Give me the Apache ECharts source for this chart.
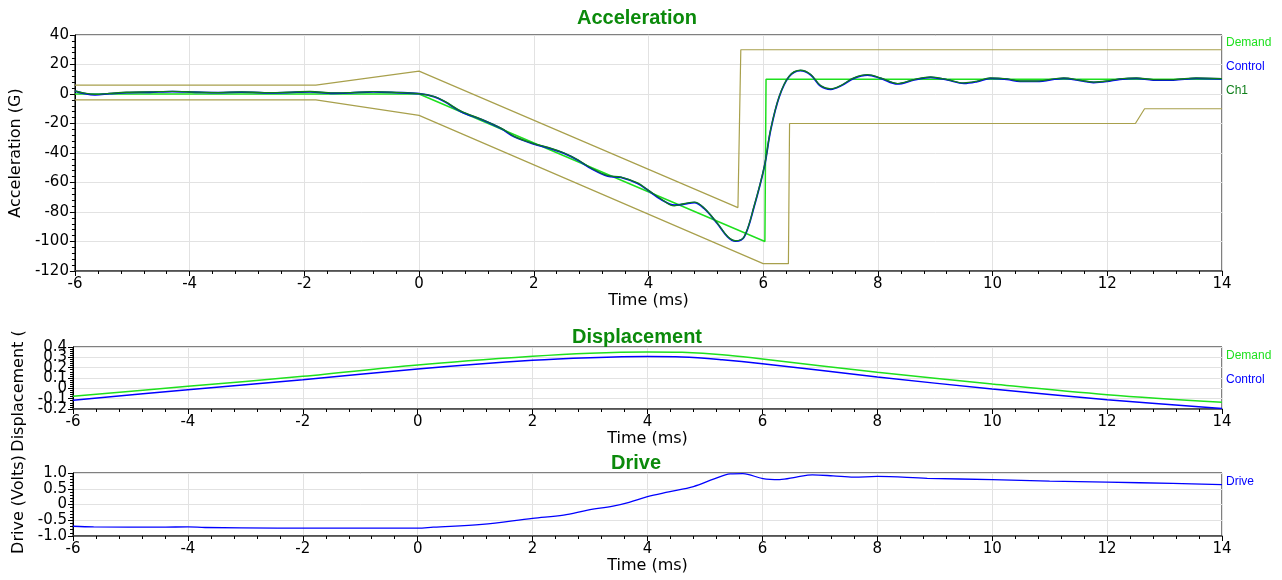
<!DOCTYPE html>
<html>
<head>
<meta charset="utf-8">
<script src="https://cdn.jsdelivr.net/npm/echarts@6/dist/echarts.min.js"></script>
<style>
html,body{margin:0;padding:0;background:#fff;}
#c{width:1282px;height:580px;}
</style>
</head>
<body>
<div id="c"></div>
<script>
// ---------- Acceleration ----------
const accDemandT = [-6, 0, 6.03, 6.05, 14];
const accDemandV = [0, 0, -100, 10, 10];
const accUpperT = [-6, -1.8, 0, 5.56, 5.61, 14];
const accUpperV = [6, 6, 15.5, -77, 30, 30];
const accLowerT = [-6, -1.8, 0, 6.0, 6.44, 6.46, 12.49, 12.65, 14];
const accLowerV = [-4, -4, -14.5, -115, -115, -20, -20, -10, -10];
const accControlT = [-6, -5.85, -5.65, -5.4, -5.1, -4.7, -4.3, -3.9, -3.5, -3.1, -2.7, -2.3, -1.9, -1.5, -1.2, -0.8, -0.4, 0,
  0.27, 0.45, 0.74, 1.08, 1.43, 1.66, 2.01, 2.25, 2.53, 2.77, 3.0, 3.29, 3.52, 3.81, 3.99, 4.22, 4.45, 4.62, 4.8, 4.97,
  5.2, 5.38, 5.52, 5.67, 5.84, 6.02, 6.13, 6.28, 6.45, 6.65, 6.83, 7.0, 7.18, 7.35, 7.58, 7.82, 8.05, 8.34, 8.63, 8.92,
  9.21, 9.5, 9.73, 9.96, 10.25, 10.48, 10.77, 11.24, 11.53, 11.76, 11.99, 12.22, 12.51, 12.8, 13.15, 13.55, 14];
const accControlV = [2, 0.5, -0.5, 0.2, 1.0, 1.2, 1.6, 1.2, 0.9, 1.3, 0.8, 1.0, 1.5, 0.5, 0.8, 1.5, 1.0, 0.2,
  -1.9, -5.3, -12.1, -17.2, -23.4, -29.0, -34, -36.5, -40.3, -44.9, -50.5, -55.7, -56.6, -60.7, -65.2, -71.5, -75.4, -74.7, -73.6, -77.6,
  -87.8, -96.9, -99.8, -96.9, -76.6, -49.4, -24.5, -1.9, 11.7, 15.8, 12.9, 5.4, 3.2, 5.4, 10.6, 12.8, 10.6, 6.8, 9.5, 11.3,
  9.5, 7.2, 8.4, 10.6, 10.0, 8.5, 8.5, 10.6, 9.0, 7.8, 8.5, 10.0, 10.6, 9.5, 9.5, 10.6, 10.2];
const accCh1V = [2.2, 0.7, -0.3, 0.4, 1.2, 1.4, 1.8, 1.3, 1.0, 1.5, 0.9, 1.2, 1.7, 0.7, 0.9, 1.6, 1.1, 0.3,
  -1.7, -5.0, -11.8, -17.0, -23.1, -28.7, -33.8, -36.2, -40.0, -44.6, -50.2, -55.4, -56.3, -60.3, -65.0, -71.2, -75.8, -74.4, -73.3, -77.3,
  -87.5, -96.6, -99.5, -96.6, -76.3, -49.1, -24.2, -1.6, 12.0, 16.1, 13.2, 5.7, 3.5, 5.7, 10.9, 13.1, 10.9, 7.1, 9.8, 11.6,
  9.8, 7.5, 8.7, 10.9, 10.3, 8.8, 8.8, 10.9, 9.3, 8.1, 8.8, 10.3, 10.9, 9.8, 9.8, 10.9, 10.4];

// ---------- Displacement ----------
const dispT = [-6, -4, -2, 0, 2, 3, 4, 4.6, 5.3, 6, 8, 10, 12, 14];
const dispDemandV = [-0.077, 0.019, 0.116, 0.226, 0.31, 0.34, 0.352, 0.348, 0.326, 0.284, 0.155, 0.042, -0.061, -0.135];
const dispControlV = [-0.116, -0.013, 0.084, 0.187, 0.271, 0.296, 0.307, 0.303, 0.277, 0.239, 0.11, -0.006, -0.11, -0.194];

// ---------- Drive ----------
const driveT = [-6, -5.64, -4.43, -4, -3.7, -2.44, 0, 0.27, 1.12, 2, 2.54, 2.96, 3.4, 3.68, 4.0, 4.37, 4.8, 5.16, 5.44, 5.66,
  6.01, 6.3, 6.59, 6.87, 7.23, 7.59, 8, 8.87, 10, 11, 12, 13.14, 14];
const driveV = [-0.69, -0.71, -0.72, -0.71, -0.73, -0.75, -0.75, -0.72, -0.63, -0.44, -0.34, -0.18, -0.05, 0.07, 0.25, 0.40, 0.57, 0.81, 0.97, 0.98,
  0.82, 0.79, 0.87, 0.94, 0.91, 0.87, 0.89, 0.83, 0.79, 0.74, 0.71, 0.67, 0.63];

// ---------- Axis ticks ----------
const xTicks = {min: -6, max: 14, interval: 2};
const accTicks = {min: -120, max: 40, interval: 20};
const dispTicks = {min: -0.2, max: 0.4, interval: 0.1};
const driveTicks = {min: -1, max: 1, interval: 0.5};
const dispEvenLabels = [-0.2, 0, 0.2, 0.4];
const dispOddLabels = [-0.1, 0.1, 0.3];

const titles = ['Acceleration', 'Displacement', 'Drive'];
const yNames = ['Acceleration (G)', 'Displacement (', 'Drive (Volts)'];
const xName = 'Time (ms)';

const C_DEMAND = '#1ee01e', C_CONTROL = '#0000ff', C_CH1 = '#0f7f1a', C_TOL = '#a8a04c', C_TITLE = '#0b8a0b';
const zip = (t, v) => t.map((x, i) => [x, v[i]]);

const grids = [
  {left: 73, right: 60, top: 35, height: 236},
  {left: 73, right: 60, top: 347, height: 62},
  {left: 73, right: 60, top: 473, height: 63}
].map(g => Object.assign(g, {show: true, borderColor: '#000', borderWidth: 1, containLabel: false}));

const labelFont = {fontFamily: 'DejaVu Sans', fontSize: 15, color: '#000'};
const nameFont = {fontFamily: 'DejaVu Sans', fontSize: 16, color: '#000'};

const xAxes = [0, 1, 2].map(i => ({
  type: 'value', gridIndex: i, min: xTicks.min, max: xTicks.max, interval: xTicks.interval,
  name: xName, nameLocation: 'middle', nameGap: 22, nameTextStyle: nameFont,
  axisLine: {show: true, onZero: false, lineStyle: {color: '#444', width: 1.5}},
  axisTick: {show: true, length: 5, lineStyle: {color: '#000'}},
  minorTick: {show: true, splitNumber: 5, length: 3, lineStyle: {color: '#000'}},
  axisLabel: Object.assign({margin: 6, showMinLabel: true, showMaxLabel: true}, labelFont),
  splitLine: {show: true, lineStyle: {color: '#e2e2e2', width: 1}}
}));

const fmtInt = (v) => String(Math.round(v));
const fmtDisp = (v) => Math.abs(v) < 1e-9 ? '0' : String(Math.round(v * 10) / 10);
const fmtDrive = (v) => Math.abs(v) < 1e-9 ? '0' : (Math.round(v * 10) / 10).toFixed(1);

const yTickSets = [accTicks, dispTicks, driveTicks];
const yFormatters = [fmtInt, fmtDisp, fmtDrive];
const yAxes = [0, 1, 2].map(i => ({
  type: 'value', gridIndex: i, min: yTickSets[i].min, max: yTickSets[i].max, interval: yTickSets[i].interval,
  name: yNames[i], nameLocation: 'middle', nameGap: 46,
  nameTextStyle: Object.assign({}, nameFont, i === 1 ? {padding: [0, 26, 0, 0]} : {}),
  axisLine: {show: true, onZero: false, lineStyle: {color: '#000', width: 1}},
  axisTick: {show: true, length: 5, lineStyle: {color: '#000'}},
  minorTick: {show: true, splitNumber: 5, length: 3, lineStyle: {color: '#000'}},
  axisLabel: Object.assign({margin: 6, formatter: yFormatters[i], showMinLabel: true, showMaxLabel: true,
    hideOverlap: false}, labelFont, i === 1 ? {customValues: dispEvenLabels} : {}),
  splitLine: {show: true, lineStyle: {color: '#e2e2e2', width: 1}}
}));
// label-only overlay axis carrying the remaining displacement tick labels
yAxes.push({
  type: 'value', gridIndex: 1, position: 'left', min: dispTicks.min, max: dispTicks.max, interval: dispTicks.interval,
  axisLine: {show: false}, axisTick: {show: false}, splitLine: {show: false}, minorTick: {show: false},
  axisLabel: Object.assign({margin: 6, formatter: fmtDisp, customValues: dispOddLabels, hideOverlap: false,
    showMinLabel: true, showMaxLabel: true}, labelFont)
});

const line = (name, data, color, xi, width, smooth) => ({
  name, type: 'line', xAxisIndex: xi, yAxisIndex: xi, data, symbol: 'none', smooth: smooth ? 0.35 : false,
  lineStyle: {color, width}, itemStyle: {color}, silent: true
});

const series = [
  line('Upper', zip(accUpperT, accUpperV), C_TOL, 0, 1.2, false),
  line('Lower', zip(accLowerT, accLowerV), C_TOL, 0, 1.2, false),
  line('Demand', zip(accDemandT, accDemandV), C_DEMAND, 0, 1.5, false),
  line('Control', zip(accControlT, accControlV), C_CONTROL, 0, 1.8, true),
  line('Ch1', zip(accControlT, accCh1V), C_CH1, 0, 1.3, true),
  line('Demand', zip(dispT, dispDemandV), C_DEMAND, 1, 1.5, true),
  line('Control', zip(dispT, dispControlV), C_CONTROL, 1, 1.5, true),
  line('Drive', zip(driveT, driveV), C_CONTROL, 2, 1.3, true)
];

const legendText = {fontFamily: 'Liberation Sans', fontSize: 12};
const mkLegend = (top, gap, items) => ({
  orient: 'vertical', left: 1221, top, padding: 0, icon: 'none', itemWidth: 0, itemHeight: 14, itemGap: gap,
  selectedMode: false, textStyle: legendText,
  data: items.map(([n, c]) => ({name: n, textStyle: {color: c}}))
});

const option = {
  animation: false,
  backgroundColor: '#fff',
  title: [
    {text: titles[0], left: 637, top: 8},
    {text: titles[1], left: 637, top: 327},
    {text: titles[2], left: 636, top: 453}
  ].map(t => Object.assign(t, {textAlign: 'center', padding: 0,
    textStyle: {fontFamily: 'Liberation Sans', fontWeight: 'bold', fontSize: 20, color: C_TITLE}})),
  legend: [
    mkLegend(36, 11, [['Demand', C_DEMAND], ['Control', C_CONTROL], ['Ch1', C_CH1]]),
    mkLegend(349, 11, [['Demand', C_DEMAND], ['Control', C_CONTROL]]),
    mkLegend(475, 10, [['Drive', C_CONTROL]])
  ],
  grid: grids,
  xAxis: xAxes,
  yAxis: yAxes,
  series
};

const chart = echarts.init(document.getElementById('c'), null, {renderer: 'canvas'});
chart.setOption(option);
</script>
</body>
</html>
